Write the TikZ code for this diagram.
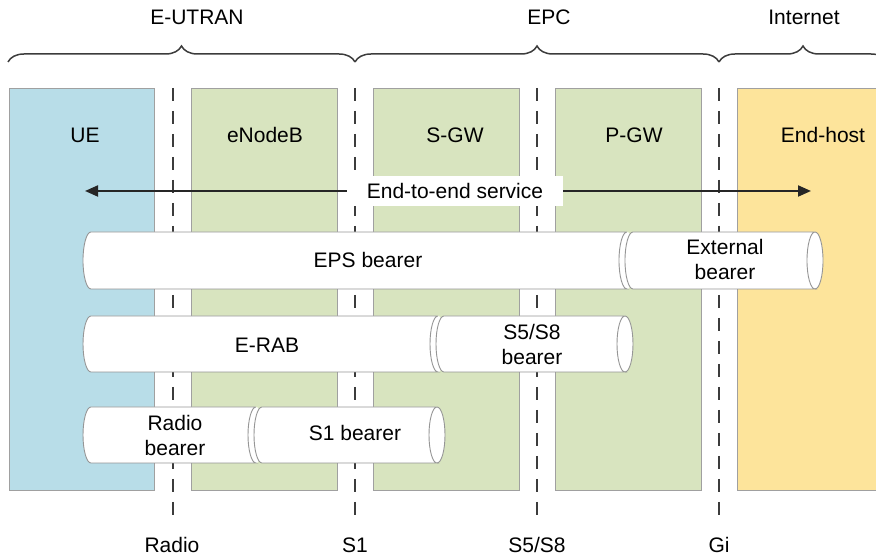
\documentclass[tikz,border=0pt]{standalone}
\usepackage{fontspec}
\setmainfont{Liberation Sans}
\usetikzlibrary{decorations.pathreplacing,arrows.meta}

\definecolor{uefill}{RGB}{184,221,232}
\definecolor{epcfill}{RGB}{216,228,191}
\definecolor{hostfill}{RGB}{253,228,155}
\definecolor{boxline}{RGB}{160,160,160}
\definecolor{darkline}{RGB}{60,60,60}
\definecolor{cylgray}{RGB}{150,150,150}

% body of a horizontal bearer pipe: rounded left end, inner rim of the right end
\newcommand\cylBody[4]{%
  \pgfmathsetmacro\cylry{(#3-#4)/2}%
  \fill[white] (#1,#3) arc[start angle=90,end angle=270,x radius=8,y radius=\cylry]
    -- (#2,#4) arc[start angle=-90,end angle=90,x radius=8,y radius=\cylry] -- cycle;
  \draw[cylline] (#2,#3) -- (#1,#3)
    arc[start angle=90,end angle=270,x radius=8,y radius=\cylry]
    -- (#2,#4) arc[start angle=270,end angle=90,x radius=8,y radius=\cylry];
}
% outer rim of the right end, only on the last pipe of a chain
\newcommand\cylCap[4]{%
  \pgfmathsetmacro\cylry{(#3-#4)/2}%
  \draw[cylline] (#2,#4) arc[start angle=-90,end angle=90,x radius=8,y radius=\cylry];
}

\begin{document}
\begin{tikzpicture}[x=1pt,y=1pt,
  font=\fontsize{21}{25}\selectfont,
  box/.style={draw=boxline,line width=0.8pt},
  divider/.style={draw=darkline,line width=2.4pt,dash pattern=on 13pt off 10pt},
  bracket/.style={draw=darkline,line width=1.5pt,decorate,decoration={brace,amplitude=16pt}},
  cylline/.style={draw=cylgray,line width=0.9pt},
  lbl/.style={inner sep=0pt,align=center},
  service/.style={draw=black!85,line width=2pt,-{Triangle[length=13pt,width=11pt]}}]

\useasboundingbox (0,0) rectangle (876,556);

% network element boxes
\draw[box,fill=uefill]   (9,66)   rectangle (154,468);
\draw[box,fill=epcfill]  (191,66) rectangle (337,468);
\draw[box,fill=epcfill]  (373,66) rectangle (519,468);
\draw[box,fill=epcfill]  (555,66) rectangle (701,468);
\draw[box,fill=hostfill] (737,66) rectangle (890,468);

\node[lbl] (ue)   at (85,421)  {UE};
\node[lbl] (enb)  at (265,421) {eNodeB};
\node[lbl] (sgw)  at (455,421) {S-GW};
\node[lbl] (pgw)  at (634,421) {P-GW};
\node[lbl] (host) at (823,421) {End-host};

% interface dividers
\foreach \xx/\nm in {173/radio,355/sone,537/sfive,719/gi}{
  \coordinate (\nm top) at (\xx,468);
  \coordinate (\nm bot) at (\xx,36);
  \draw[divider] (\nm top) -- (\nm bot);
}

\node[lbl] (lradio) at (172,11) {Radio};
\node[lbl] (ls1)    at (355,11) {S1};
\node[lbl] (ls5)    at (537,11) {S5/S8};
\node[lbl] (lgi)    at (719,11) {Gi};

% domain braces
\draw[bracket] (8,494) -- (355,494);
\draw[bracket] (355,494) -- (719,494);
\draw[bracket] (719,494) -- (887,494);
\node[lbl] (eutran) at (197,539) {E-UTRAN};
\node[lbl] (epc)    at (549,539) {EPC};
\node[lbl] (inet)   at (804,539) {Internet};

% end-to-end service
\coordinate (e2eL) at (85,365);
\coordinate (e2eR) at (811,365);
\node[fill=white,inner xsep=20pt,inner ysep=7pt] (e2e) at (455,365) {End-to-end service};
\draw[service] (e2e.west) -- (e2eL);
\draw[service] (e2e.east) -- (e2eR);

% bearers
\cylBody{91}{627}{324}{267}
\cylBody{633}{815}{324}{267}
\cylCap{633}{815}{324}{267}
\node[lbl] (eps) at (368,296) {EPS bearer};
\node[lbl] (ext) at (725,296) {External\\bearer};

\cylBody{91}{438}{240}{184}
\cylBody{444}{625}{240}{184}
\cylCap{444}{625}{240}{184}
\node[lbl] (erab) at (267,211) {E-RAB};
\node[lbl] (s5b)  at (532,211) {S5/S8\\bearer};

\cylBody{91}{256}{149}{93}
\cylBody{262}{437}{149}{93}
\cylCap{262}{437}{149}{93}
\node[lbl] (rb)  at (175,121) {Radio\\bearer};
\node[lbl] (s1b) at (355,123) {S1 bearer};

\end{tikzpicture}
\end{document}
